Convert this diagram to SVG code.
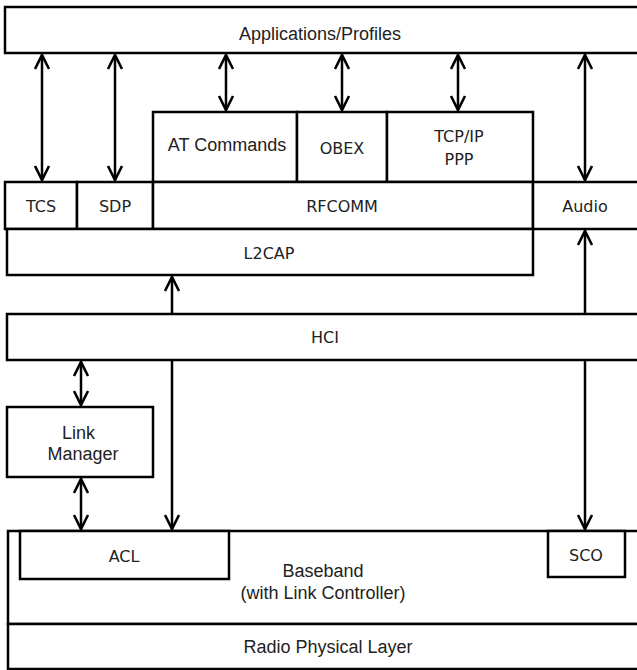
<svg xmlns="http://www.w3.org/2000/svg" width="637" height="670" viewBox="0 0 637 670">
<style>
.box{fill:#fff;stroke:#000;stroke-width:2.5}
.a{font-family:"Liberation Sans",Arial,sans-serif;font-size:18px;fill:#222;text-anchor:middle}
.d{font-family:"DejaVu Sans",Verdana,sans-serif;font-size:16px;fill:#222;text-anchor:middle}
.c{fill:none;stroke:#000;stroke-width:2.5}
</style>
<defs>
<marker id="ah" markerUnits="userSpaceOnUse" markerWidth="30" markerHeight="30" viewBox="-20 -15 30 30" refX="0" refY="0" orient="auto-start-reverse" overflow="visible">
<path d="M-14,-7 L0,0 L-14,7" fill="none" stroke="#000" stroke-width="2.6" stroke-linejoin="miter"/>
</marker>
</defs>
<rect width="637" height="670" fill="#fff"/>
<g id="app"><rect class="box" x="5" y="7" width="640" height="46"/><text class="a" x="320" y="39.5">Applications/Profiles</text></g>
<g id="at"><rect class="box" x="153" y="112" width="144" height="70"/><text class="a" x="227" y="150.5">AT Commands</text></g>
<g id="obex"><rect class="box" x="297" y="112" width="90" height="70"/><text class="d" x="342" y="154">OBEX</text></g>
<g id="tcpip"><rect class="box" x="387" y="112" width="146" height="70"/><text class="d" x="459" y="142">TCP/IP</text><text class="d" x="459" y="165">PPP</text></g>
<g id="tcs"><rect class="box" x="5" y="182" width="72" height="47"/><text class="d" x="41" y="212">TCS</text></g>
<g id="sdp"><rect class="box" x="77" y="182" width="76" height="47"/><text class="d" x="115" y="212">SDP</text></g>
<g id="rfcomm"><rect class="box" x="153" y="182" width="380" height="47"/><text class="d" x="342" y="212">RFCOMM</text></g>
<g id="audio"><rect class="box" x="533" y="182" width="110" height="47"/><text class="d" x="585" y="212">Audio</text></g>
<g id="l2cap"><rect class="box" x="7" y="229" width="526" height="46"/><text class="d" x="269" y="259">L2CAP</text></g>
<g id="hci"><rect class="box" x="7" y="314" width="640" height="46"/><text class="d" x="325" y="343">HCI</text></g>
<g id="lm"><rect class="box" x="7" y="407" width="146" height="70"/><text class="a" x="78.5" y="439">Link</text><text class="a" x="83" y="460">Manager</text></g>
<g id="baseband"><rect class="box" x="8" y="531" width="640" height="93"/><text class="a" x="323" y="576.5">Baseband</text><text class="a" x="323" y="599">(with Link Controller)</text></g>
<g id="acl"><rect class="box" x="20" y="531" width="209" height="48"/><text class="d" x="124" y="562">ACL</text></g>
<g id="sco"><rect class="box" x="548" y="531" width="77" height="46"/><text class="d" x="586" y="561">SCO</text></g>
<g id="radio"><rect class="box" x="8" y="624" width="640" height="45"/><text class="a" x="328" y="653">Radio Physical Layer</text></g>
<g id="connectors">
<line class="c" x1="42" y1="55" x2="42" y2="180" marker-start="url(#ah)" marker-end="url(#ah)"/>
<line class="c" x1="115" y1="55" x2="115" y2="180" marker-start="url(#ah)" marker-end="url(#ah)"/>
<line class="c" x1="226" y1="55" x2="226" y2="110" marker-start="url(#ah)" marker-end="url(#ah)"/>
<line class="c" x1="342" y1="55" x2="342" y2="110" marker-start="url(#ah)" marker-end="url(#ah)"/>
<line class="c" x1="458" y1="55" x2="458" y2="110" marker-start="url(#ah)" marker-end="url(#ah)"/>
<line class="c" x1="585" y1="55" x2="585" y2="180" marker-start="url(#ah)" marker-end="url(#ah)"/>
<line class="c" x1="172" y1="313" x2="172" y2="277" marker-end="url(#ah)"/>
<line class="c" x1="585" y1="313" x2="585" y2="231" marker-end="url(#ah)"/>
<line class="c" x1="81" y1="362" x2="81" y2="405" marker-start="url(#ah)" marker-end="url(#ah)"/>
<line class="c" x1="172" y1="361" x2="172" y2="529" marker-end="url(#ah)"/>
<line class="c" x1="585" y1="361" x2="585" y2="529" marker-end="url(#ah)"/>
<line class="c" x1="81" y1="479" x2="81" y2="529" marker-start="url(#ah)" marker-end="url(#ah)"/>
</g>
</svg>
